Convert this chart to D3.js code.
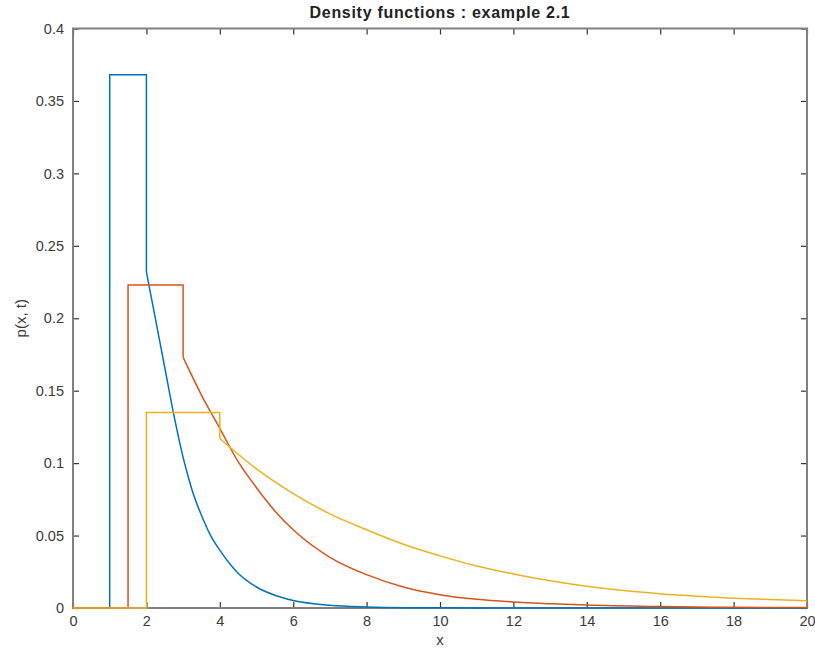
<!DOCTYPE html>
<html>
<head>
<meta charset="utf-8">
<script src="https://cdn.jsdelivr.net/npm/d3@7"></script>
<style>
  body { margin: 0; background: #fff; }
  text { font-family: "Liberation Sans", Arial, sans-serif; }
</style>
</head>
<body>
<svg id="chart" width="815" height="652"></svg>
<script>
// values
var xTicks = [0, 2, 4, 6, 8, 10, 12, 14, 16, 18, 20];
var yTicks = [0, 0.05, 0.1, 0.15, 0.2, 0.25, 0.3, 0.35, 0.4];
var yTickLabels = ["0", "0.05", "0.1", "0.15", "0.2", "0.25", "0.3", "0.35", "0.4"];

// flat (step) part of each density
var blueStep = [[0, 0], [1, 0], [1, 0.368], [2, 0.368], [2, 0.232]];
var redStep = [[0, 0], [1.5, 0], [1.5, 0.223], [3, 0.223], [3, 0.173]];
var yellowStep = [[0, 0], [2, 0], [2, 0.135], [4, 0.135], [4, 0.117]];

// decaying tails
var blueTail = [[2, 0.232], [2.25, 0.199], [2.5, 0.166], [2.75, 0.133], [2.875, 0.118],
  [3, 0.104], [3.125, 0.092], [3.25, 0.081], [3.375, 0.072], [3.5, 0.064], [3.75, 0.050],
  [4, 0.040], [4.5, 0.024], [5, 0.0145], [5.5, 0.0088], [6, 0.0052], [7, 0.0019],
  [8, 0.0007], [9, 0.0002], [10, 0.0001], [12, 0], [20, 0]];
var redTail = [[3, 0.173], [3.5, 0.147], [4, 0.124], [4.5, 0.101], [5, 0.083], [5.5, 0.067],
  [6, 0.054], [7, 0.035], [8, 0.023], [9, 0.0145], [10, 0.0092], [11, 0.006], [12, 0.0042],
  [13, 0.003], [14, 0.002], [16, 0.001], [18, 0.0005], [20, 0.0003]];
var yellowTail = [[4, 0.117], [5, 0.096], [6, 0.079], [7, 0.065], [8, 0.054], [9, 0.044],
  [10, 0.036], [11, 0.029], [12, 0.0235], [13, 0.0188], [14, 0.015], [15, 0.012],
  [16, 0.0098], [17, 0.0081], [18, 0.0068], [19, 0.0058], [20, 0.005]];

var series = [
  {color: "#0072BD", step: blueStep, tail: blueTail},
  {color: "#D95319", step: redStep, tail: redTail},
  {color: "#EDB120", step: yellowStep, tail: yellowTail}
];

var svg = d3.select("#chart");
var plot = {left: 73, right: 807, top: 28.5, bottom: 608};

var x = d3.scaleLinear().domain([0, 20]).range([plot.left, plot.right]);
var y = d3.scaleLinear().domain([0, 0.4]).range([plot.bottom, plot.top]);

var axisColor = "#808080";
var labelColor = "#3a3a3a";

// box with inward ticks on all four sides
function styleAxis(g) {
  g.select(".domain").remove();
  g.selectAll(".tick line").attr("stroke", "#333").attr("stroke-width", 1.2);
  g.selectAll(".tick text").attr("fill", labelColor).style("font-size", "14.5px");
}

svg.append("g")
    .attr("transform", "translate(0," + plot.bottom + ")")
    .call(d3.axisBottom(x).tickValues(xTicks).tickSizeInner(-6).tickSizeOuter(0).tickPadding(8).tickFormat(d3.format("d")))
    .call(styleAxis);

svg.append("g")
    .attr("transform", "translate(0," + plot.top + ")")
    .call(d3.axisTop(x).tickValues(xTicks).tickSizeInner(-6).tickSizeOuter(0).tickFormat(""))
    .call(styleAxis);

svg.append("g")
    .attr("transform", "translate(" + plot.left + ",0)")
    .call(d3.axisLeft(y).tickValues(yTicks).tickSizeInner(-6).tickSizeOuter(0).tickPadding(9)
      .tickFormat(function(d, i) { return yTickLabels[i]; }))
    .call(styleAxis);

svg.append("g")
    .attr("transform", "translate(" + plot.right + ",0)")
    .call(d3.axisRight(y).tickValues(yTicks).tickSizeInner(-6).tickSizeOuter(0).tickFormat(""))
    .call(styleAxis);

svg.append("rect")
    .attr("x", plot.left).attr("y", plot.top)
    .attr("width", plot.right - plot.left).attr("height", plot.bottom - plot.top)
    .attr("fill", "none")
    .attr("stroke", axisColor)
    .attr("stroke-width", 2);

// density lines
var stepLine = d3.line()
    .x(function(d) { return x(d[0]); })
    .y(function(d) { return y(d[1]); });

var tailLine = d3.line()
    .x(function(d) { return x(d[0]); })
    .y(function(d) { return y(d[1]); })
    .curve(d3.curveMonotoneX);

var lines = svg.append("g").attr("class", "lines");
series.forEach(function(s) {
  lines.append("path")
      .attr("d", stepLine(s.step))
      .attr("fill", "none")
      .attr("stroke", s.color)
      .attr("stroke-width", 1.5);
  lines.append("path")
      .attr("d", tailLine(s.tail))
      .attr("fill", "none")
      .attr("stroke", s.color)
      .attr("stroke-width", 1.5);
});

// title and axis labels
svg.append("text")
    .attr("x", (plot.left + plot.right) / 2)
    .attr("y", 18)
    .attr("text-anchor", "middle")
    .style("font-size", "16px")
    .style("font-weight", "bold")
    .style("letter-spacing", "0.7px")
    .attr("fill", "#222")
    .text("Density functions : example 2.1");

svg.append("text")
    .attr("x", (plot.left + plot.right) / 2)
    .attr("y", 645)
    .attr("text-anchor", "middle")
    .style("font-size", "15px")
    .attr("fill", labelColor)
    .text("x");

svg.append("text")
    .attr("transform", "translate(26," + ((plot.top + plot.bottom) / 2) + ") rotate(-90)")
    .attr("text-anchor", "middle")
    .style("font-size", "15px")
    .attr("fill", labelColor)
    .text("p(x, t)");
</script>
</body>
</html>
